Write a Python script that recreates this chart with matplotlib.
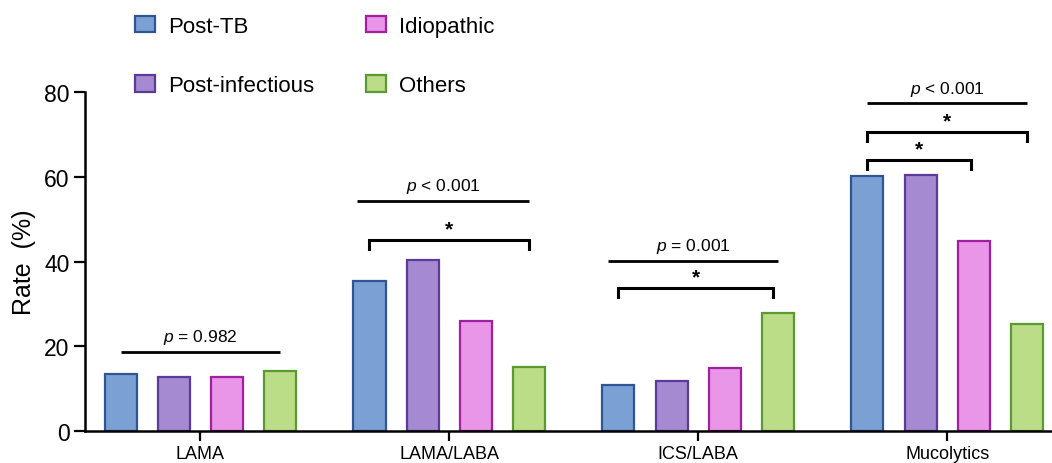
import matplotlib
matplotlib.use("Agg")
import matplotlib.pyplot as plt
import numpy as np

plt.rcParams['font.family'] = ['Liberation Sans', 'DejaVu Sans']
plt.rcParams['mathtext.fontset'] = 'custom'
plt.rcParams['mathtext.it'] = 'Liberation Sans:italic'
plt.rcParams['mathtext.rm'] = 'Liberation Sans'

categories = ["LAMA", "LAMA/LABA", "ICS/LABA", "Mucolytics"]
series_names = ["Post-TB", "Post-infectious", "Idiopathic", "Others"]
post_tb = [13.3, 35.5, 10.7, 60.1]
post_infectious = [12.7, 40.4, 11.8, 60.4]
idiopathic = [12.8, 26.0, 14.9, 44.9]
others = [14.1, 15.1, 27.8, 25.3]
y_ticks = [0, 20, 40, 60, 80]

# annotations: (group, start bar pos, end bar pos, y, label)
p_lines = [
    (0, 0.0, 3.0, 18.7, r"$\it{p}$ = 0.982"),
    (1, -0.24, 3.0, 54.4, r"$\it{p}$ < 0.001"),
    (2, -0.2, 3.0, 40.1, r"$\it{p}$ = 0.001"),
    (3, 0.0, 3.0, 77.4, r"$\it{p}$ < 0.001"),
]
brackets = [
    (1, 0.0, 3.0, 45.2, "*"),
    (2, 0.0, 2.9, 33.8, "*"),
    (3, 0.0, 3.0, 70.6, "*"),
    (3, 0.0, 1.95, 64.1, "*"),
]

fills = ["#7BA0D4", "#A58AD1", "#E995E8", "#BBDD88"]
edges = ["#2F5597", "#5A3A9A", "#A020A0", "#5A9A30"]

fig = plt.figure(figsize=(10.52, 4.64), dpi=100)
ax = fig.add_axes([85/1052, 32.3/464, 1 - 85/1052, (431.7-93.3)/464])

spacing = 0.214
width = 0.129
x = np.arange(len(categories))
offsets = (np.arange(4) - 1.5) * spacing
data = [post_tb, post_infectious, idiopathic, others]
for i, (vals, name) in enumerate(zip(data, series_names)):
    ax.bar(x + offsets[i], vals, width, color=fills[i], edgecolor=edges[i],
           linewidth=1.6, label=name, zorder=2)

def barpos(g, b):
    return g + offsets[0] + b * spacing

for g, s, e, y, lab in p_lines:
    x0, x1 = barpos(g, s), barpos(g, e)
    ax.plot([x0, x1], [y, y], color="black", lw=2, clip_on=False, solid_capstyle='butt')
    ax.annotate(lab, xy=((x0 + x1) / 2, y), xytext=(0, 11), textcoords="offset points",
                ha="center", va="center", fontsize=12.5, annotation_clip=False)

for g, s, e, y, lab in brackets:
    x0, x1 = barpos(g, s), barpos(g, e)
    ax.plot([x0, x0, x1, x1], [y - 2.2, y, y, y - 2.2], color="black", lw=2.2,
            clip_on=False, solid_joinstyle='miter')
    ax.annotate(lab, xy=((x0 + x1) / 2, y), xytext=(0, 8), textcoords="offset points",
                ha="center", va="center", fontsize=15, fontweight="bold",
                annotation_clip=False)

ax.set_xlim(-0.464, 3.421)
ax.set_ylim(0, 80)
ax.set_yticks(y_ticks)
ax.set_xticks(x)
ax.set_xticklabels(categories, fontsize=13)
ax.tick_params(axis='y', labelsize=16.5, length=8, width=1.6, pad=3)
ax.tick_params(axis='x', length=7, width=1.6, pad=3.5)
for sp in ["top", "right"]:
    ax.spines[sp].set_visible(False)
ax.spines["left"].set_linewidth(1.8)
ax.spines["bottom"].set_linewidth(1.8)
ax.set_ylabel("Rate  (%)", fontsize=18, labelpad=6)

leg = ax.legend(ncol=2, frameon=False, fontsize=16, loc="upper left",
                bbox_to_anchor=(135/1052, 1 - 17/464), bbox_transform=fig.transFigure,
                borderpad=0, borderaxespad=0, handlelength=0.9, handleheight=0.75,
                handletextpad=0.6, columnspacing=2.3, labelspacing=1.72)

fig.savefig("out.png", dpi=100)
